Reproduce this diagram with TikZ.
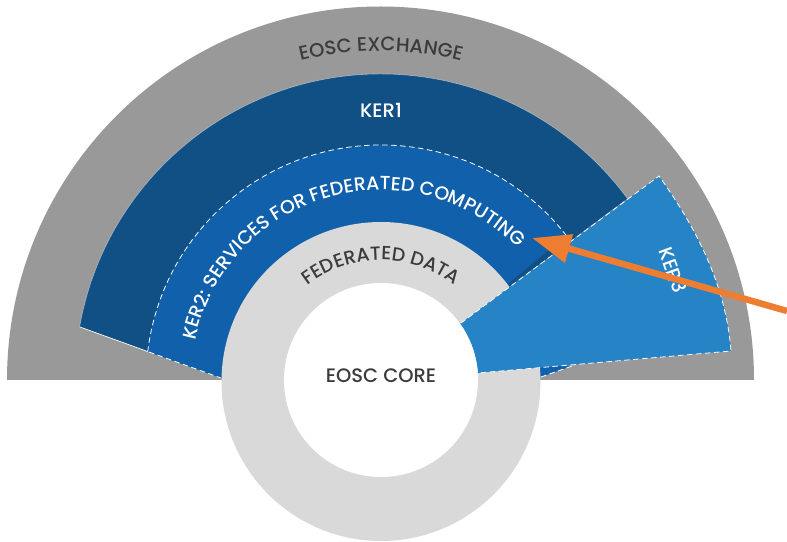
\documentclass[tikz,border=0pt]{standalone}
\usepackage{fontspec}
\setmainfont{Poppins Medium}
\usetikzlibrary{decorations.text,arrows.meta,calc}
\definecolor{grayband}{HTML}{999999}
\definecolor{kerone}{HTML}{115085}
\definecolor{kertwo}{HTML}{1160AB}
\definecolor{kerthree}{HTML}{2683C6}
\definecolor{ringgray}{HTML}{D9D9D9}
\definecolor{arroworange}{HTML}{ED7D31}
\definecolor{darktext}{HTML}{3B3B3B}
\tikzset{
  edgedash/.style={draw=white,line width=0.8pt,dash pattern=on 5.5pt off 3.5pt},
  edgesolid/.style={draw=white,line width=0.7pt},
  labeltext/.style={font=\fontsize{19.5}{22}\selectfont,text=darktext},
  whitelabel/.style={font=\fontsize{19.5}{22}\selectfont,text=white},
  curvelabel/.style={decoration={text along path,text align=center,text={#1}},decorate}
}
\begin{document}
\begin{tikzpicture}[x=1pt,y=1pt]
\useasboundingbox (0,0) rectangle (787,541);
\coordinate (c) at (381,161);
\coordinate (ringc) at (381,159.5);
% outer grey band
\fill[grayband] (7,161) arc[start angle=180,end angle=0,radius=373.5] -- cycle;
% KER1
\fill[kerone] ($(c)+(170:306)$) arc[start angle=170,end angle=36.4,radius=306] -- (461,218) -- (c) -- (221,163) -- cycle;
\draw[draw=white,opacity=0.45,line width=0.6pt] ($(c)+(170:306)$) arc[start angle=170,end angle=36.4,radius=306];
\draw[edgesolid] (80,214) -- (149,189);
% KER2
\fill[kertwo] ($(c)+(173.1:235)$) arc[start angle=173.1,end angle=38,radius=235] -- (461,218) -- (c) -- (221,163) -- cycle;
\fill[kertwo] (541,164) -- (572,175) -- (530,180) -- cycle;
\draw[edgedash] ($(c)+(173.1:235)$) arc[start angle=173.1,end angle=38,radius=235];
\draw[edgedash] (149,189) -- (221,163);
\draw[edgedash] (541,164) -- (572,175);
% federated data ring
\fill[ringgray] (ringc) circle[radius=159.5];
% KER3
\coordinate (k3a) at (461,218);
\coordinate (k3b) at (659,365);
\coordinate (k3c) at (731,190);
\coordinate (k3d) at (478,168);
\fill[kerthree] (k3a) -- (k3b) .. controls (697,312) and (726,255) .. (k3c) -- (k3d) arc[start angle=4.1,end angle=35.5,radius=97.2] -- cycle;
\draw[edgedash] (k3a) -- (k3b) .. controls (697,312) and (726,255) .. (k3c) -- (k3d);
% core
\fill[white] (c) circle[radius=97];
% texts
\path[curvelabel={|\fontsize{19.5}{22}\selectfont\color{darktext}|EOSC EXCHANGE}] ($(c)+(120:329)$) arc[start angle=120,end angle=60,radius=329];
\path[curvelabel={|\fontsize{19}{22}\selectfont\color{white}|KER2: SERVICES FOR FEDERATED COMPUTING}] ($(c)+(179:190)$) arc[start angle=179,end angle=33,radius=190];
\path[curvelabel={|\fontsize{19}{22}\selectfont\color{darktext}|FEDERATED DATA}] ($(c)+(150:120)$) arc[start angle=150,end angle=30,radius=120];
\node[whitelabel] (kerone) at (381,431) {KER1};
\node[labeltext] (core) at (381,165) {EOSC CORE};
\node[whitelabel,rotate=-70] (kerthree) at (673,271) {KER3};
% arrow
\coordinate (arrowstart) at (787,230);
\coordinate (arrowend) at (532,303);
\draw[arroworange,line width=6.5pt,-{Triangle[length=38.5pt,width=28pt]}] (arrowstart) -- (arrowend);
\end{tikzpicture}
\end{document}
